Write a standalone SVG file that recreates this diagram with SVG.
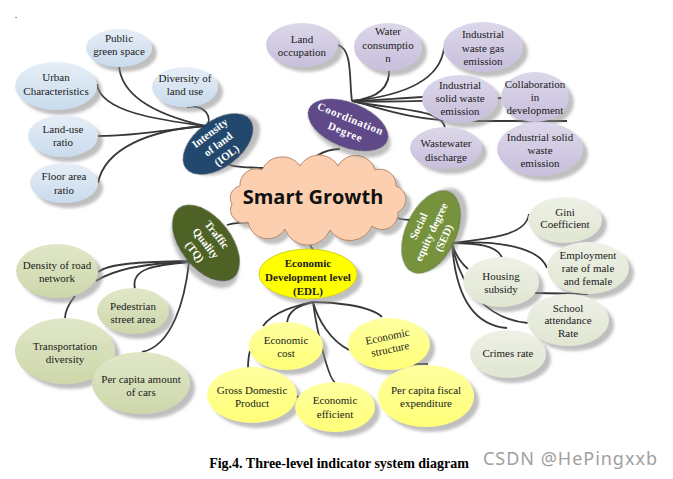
<svg xmlns="http://www.w3.org/2000/svg" width="673" height="479" viewBox="0 0 673 479">
<style>
text{font-family:"Liberation Serif","Times New Roman",serif;font-size:11px;fill:#1a1a1a;text-anchor:middle}
.w{fill:#ffffff;font-weight:bold}
.b{font-weight:bold}
.c path{fill:none;stroke:#383838;stroke-width:1.8}
.blue{fill:url(#gBlue)}
.pur{fill:url(#gPur)}
.olv{fill:url(#gOlv)}
.yel{fill:url(#gYel)}
.pal{fill:url(#gPal)}
ellipse,.cloud{filter:url(#sh)}
</style>
<defs>
<filter id="sh" x="-30%" y="-30%" width="170%" height="170%"><feDropShadow dx="5" dy="5" stdDeviation="1.8" flood-color="#8a8a8a" flood-opacity="0.55"/></filter>
<linearGradient id="gBlue" x1="0" y1="0" x2="0" y2="1"><stop offset="0" stop-color="#e6eef7"/><stop offset="1" stop-color="#c9dbec"/></linearGradient>
<linearGradient id="gPur" x1="0" y1="0" x2="0" y2="1"><stop offset="0" stop-color="#dcd7ea"/><stop offset="1" stop-color="#c8bfdc"/></linearGradient>
<linearGradient id="gOlv" x1="0" y1="0" x2="0" y2="1"><stop offset="0" stop-color="#e0e7c8"/><stop offset="1" stop-color="#cdd7aa"/></linearGradient>
<linearGradient id="gYel" x1="0" y1="0" x2="0" y2="1"><stop offset="0" stop-color="#ffffa0"/><stop offset="1" stop-color="#ffff78"/></linearGradient>
<linearGradient id="gPal" x1="0" y1="0" x2="0" y2="1"><stop offset="0" stop-color="#eef1e6"/><stop offset="1" stop-color="#e0e6d2"/></linearGradient>
</defs>
<rect width="673" height="479" fill="#ffffff"/>
<text x="16" y="18" style="font-size:10px">.</text>

<g id="connectors" class="c">
<!-- IOL -->
<path d="M97,84 C100,112 160,120 205,126"/>
<path d="M119,65 C121,102 170,118 205,126"/>
<path d="M187,107 C206,104 213,118 206,127"/>
<path d="M98,136 C140,136 170,129 205,126"/>
<path d="M98,183 C105,148 150,130 205,126"/>
<path d="M228,164 C234,168 248,167 264,168"/>
<!-- Coordination -->
<path d="M338,45 C353,49 349,82 352,101"/>
<path d="M389,68 C391,92 370,99 352,101"/>
<path d="M444,48 C440,82 400,96 352,101"/>
<path d="M424,97 C400,98 380,100 352,101"/>
<path d="M352,101 C390,103 440,100 503,98"/>
<path d="M352,101 C380,108 410,120 460,121 L567,121"/>
<path d="M352,101 C392,110 442,108 445,128"/>
<path d="M340,149 C320,150 312,158 310,168"/>
<!-- TQ -->
<path d="M98,272 C112,262 150,262 189,261"/>
<path d="M96,281 C116,268 150,263 189,262"/>
<path d="M135,289 C130,268 156,265 189,262"/>
<path d="M142,352 C172,346 185,300 189,262"/>
<path d="M75,296 C68,305 65,311 65,318"/>
<path d="M227,225 C235,222 250,222 264,222"/>
<!-- EDL -->
<path d="M305,229 C305,240 310,244 313,250"/>
<path d="M263,326 C275,310 300,305 313,302"/>
<path d="M287,323 C288,310 300,305 313,302"/>
<path d="M335,382 C330,381 318,340 313,302"/>
<path d="M349,350 C330,340 318,320 313,302"/>
<path d="M382,317 C370,305 330,302 313,302"/>
<path d="M250,351 C248,358 248,363 248,369"/>
<path d="M293,396 L299,397"/>
<path d="M406,364 L428,364"/>
<!-- SED -->
<path d="M383,212 C395,218 400,220 411,220"/>
<path d="M529,214 C526,236 490,238 452,243"/>
<path d="M502,258 C498,245 475,243 452,243"/>
<path d="M547,268 C540,248 500,240 452,243"/>
<path d="M468,269 C460,262 455,255 452,243"/>
<path d="M528,323 C490,320 460,290 452,243"/>
<path d="M507,328 C470,325 455,290 452,243"/>
<path d="M535,293 L588,294"/>
</g>

<!-- Smart Growth -->
<g id="smart-growth">
<path class="cloud" d="M240,186 A16,16 0 0 1 262,170 A22,22 0 0 1 300,166 A22,22 0 0 1 338,166 A20,20 0 0 1 375,170 A16,16 0 0 1 396,186 A14,14 0 0 1 398,212 A16,16 0 0 1 372,226 A24,24 0 0 1 330,230 A24,24 0 0 1 285,229 A20,20 0 0 1 248,222 A13,13 0 0 1 232,204 A12,12 0 0 1 240,186 Z" fill="#fbcfb0" stroke="#b98a6a" stroke-width="1"/>
<text x="313" y="204" style="font-family:'Open Sans','Liberation Sans',sans-serif;font-size:20px;font-weight:bold;fill:#111">Smart Growth</text>
</g>

<!-- IOL -->
<g id="iol" transform="translate(218,144) rotate(-37)">
<ellipse rx="40" ry="23" fill="#244a6d" stroke="#1a3550" stroke-width="0.8"/>
<text class="w" y="-10">Intensity</text>
<text class="w" y="4">of land</text>
<text class="w" y="18">(IOL)</text>
</g>
<g id="n-pgs"><ellipse class="blue" cx="119" cy="48" rx="33" ry="19"/><text x="119" y="42">Public</text><text x="119" y="55">green space</text></g>
<g id="n-uc"><ellipse class="blue" cx="56" cy="86" rx="41" ry="24"/><text x="56" y="81">Urban</text><text x="56" y="95">Characteristics</text></g>
<g id="n-dlu"><ellipse class="blue" cx="185" cy="87" rx="33" ry="20"/><text x="185" y="82">Diversity of</text><text x="185" y="95">land use</text></g>
<g id="n-lur"><ellipse class="blue" cx="63" cy="136" rx="35" ry="21"/><text x="63" y="133">Land-use</text><text x="63" y="146">ratio</text></g>
<g id="n-far"><ellipse class="blue" cx="64" cy="183" rx="34" ry="20"/><text x="64" y="180">Floor area</text><text x="64" y="194">ratio</text></g>

<!-- Coordination -->
<g id="cdg" transform="translate(348,125) rotate(22)">
<ellipse rx="42" ry="22" fill="#5e4a89" stroke="#463668" stroke-width="0.8"/>
<text class="w" y="-3" style="letter-spacing:0.6px">Coordination</text>
<text class="w" y="11" style="letter-spacing:0.6px">Degree</text>
</g>
<g id="n-lo"><ellipse class="pur" cx="302" cy="45" rx="36" ry="22"/><text x="302" y="43">Land</text><text x="302" y="56">occupation</text></g>
<g id="n-wc"><ellipse class="pur" cx="388" cy="47" rx="34" ry="24"/><text x="388" y="35">Water</text><text x="388" y="49">consumptio</text><text x="388" y="62">n</text></g>
<g id="n-iwg"><ellipse class="pur" cx="483" cy="47" rx="40" ry="25"/><text x="483" y="38">Industrial</text><text x="483" y="52">waste gas</text><text x="483" y="65">emission</text></g>
<g id="n-isw1"><ellipse class="pur" cx="460" cy="99" rx="38" ry="24"/><text x="460" y="89">Industrial</text><text x="460" y="102">solid waste</text><text x="460" y="115">emission</text></g>
<g id="n-cid"><ellipse class="pur" cx="535" cy="97" rx="34" ry="25"/><text x="535" y="88">Collaboration</text><text x="535" y="101">in</text><text x="535" y="114">development</text></g>
<g id="n-wd"><ellipse class="pur" cx="446" cy="148" rx="36" ry="21"/><text x="446" y="147">Wastewater</text><text x="446" y="161">discharge</text></g>
<g id="n-isw2"><ellipse class="pur" cx="540" cy="149" rx="43" ry="27"/><text x="540" y="141">Industrial solid</text><text x="540" y="154">waste</text><text x="540" y="167">emission</text></g>

<!-- TQ -->
<g id="tq" transform="translate(206,243) rotate(52)">
<ellipse rx="44" ry="25" fill="#4f6228" stroke="#3a4a1c" stroke-width="0.8"/>
<text class="w" y="-10">Traffic</text>
<text class="w" y="4">Quality</text>
<text class="w" y="18">(TQ)</text>
</g>
<g id="n-drn"><ellipse class="olv" cx="57" cy="271" rx="41" ry="27"/><text x="57" y="269">Density of road</text><text x="57" y="282">network</text></g>
<g id="n-td"><ellipse class="olv" cx="65" cy="351" rx="50" ry="33"/><text x="65" y="350">Transportation</text><text x="65" y="363">diversity</text></g>
<g id="n-psa"><ellipse class="olv" cx="133" cy="311" rx="36" ry="23"/><text x="133" y="310">Pedestrian</text><text x="133" y="323">street area</text></g>
<g id="n-pcc"><ellipse class="olv" cx="141" cy="383" rx="49" ry="31"/><text x="141" y="383">Per capita amount</text><text x="141" y="396">of cars</text></g>

<!-- EDL -->
<g id="edl"><ellipse cx="308" cy="274" rx="49" ry="25" fill="#ffff00" stroke="#c8c800" stroke-width="0.8"/><text class="b" x="308" y="267">Economic</text><text class="b" x="308" y="281">Development level</text><text class="b" x="308" y="295">(EDL)</text></g>
<g id="n-ec"><ellipse class="yel" cx="286" cy="346" rx="37" ry="24"/><text x="286" y="344">Economic</text><text x="286" y="357">cost</text></g>
<g id="n-es"><ellipse class="yel" cx="389" cy="344" rx="41" ry="26"/><g transform="rotate(-12 389 344)"><text x="389" y="340">Economic</text><text x="389" y="353">structure</text></g></g>
<g id="n-gdp"><ellipse class="yel" cx="252" cy="395" rx="45" ry="28"/><text x="252" y="394">Gross Domestic</text><text x="252" y="407">Product</text></g>
<g id="n-ee"><ellipse class="yel" cx="335" cy="407" rx="40" ry="25"/><text x="335" y="404">Economic</text><text x="335" y="418">efficient</text></g>
<g id="n-pcf"><ellipse class="yel" cx="426" cy="396" rx="48" ry="31"/><text x="426" y="394">Per capita fiscal</text><text x="426" y="407">expenditure</text></g>

<!-- SED -->
<g id="sed" transform="translate(431,232) rotate(-65)">
<ellipse rx="44" ry="25" fill="#76923c" stroke="#5a722c" stroke-width="0.8"/>
<text class="w" y="-10">Social</text>
<text class="w" y="4">equity degree</text>
<text class="w" y="18">(SED)</text>
</g>
<g id="n-gini"><ellipse class="pal" cx="565" cy="220" rx="37" ry="23"/><text x="565" y="216">Gini</text><text x="565" y="228">Coefficient</text></g>
<g id="n-emp"><ellipse class="pal" cx="588" cy="268" rx="41" ry="26"/><text x="588" y="259">Employment</text><text x="588" y="272">rate of male</text><text x="588" y="285">and female</text></g>
<g id="n-hs"><ellipse class="pal" cx="501" cy="282" rx="38" ry="25"/><text x="501" y="280">Housing</text><text x="501" y="293">subsidy</text></g>
<g id="n-sar"><ellipse class="pal" cx="568" cy="320" rx="41" ry="26"/><text x="568" y="312">School</text><text x="568" y="324">attendance</text><text x="568" y="337">Rate</text></g>
<g id="n-cr"><ellipse class="pal" cx="508" cy="354" rx="38" ry="24"/><text x="508" y="357">Crimes rate</text></g>

<text x="339" y="468" style="font-size:14px;font-weight:bold;fill:#000">Fig.4. Three-level indicator system diagram</text>
<text x="483" y="465" textLength="174" lengthAdjust="spacing" style="font-family:'Noto Sans','Open Sans',sans-serif;font-size:18px;fill:#a0a0a0;text-anchor:start">CSDN @HePingxxb</text>
</svg>
